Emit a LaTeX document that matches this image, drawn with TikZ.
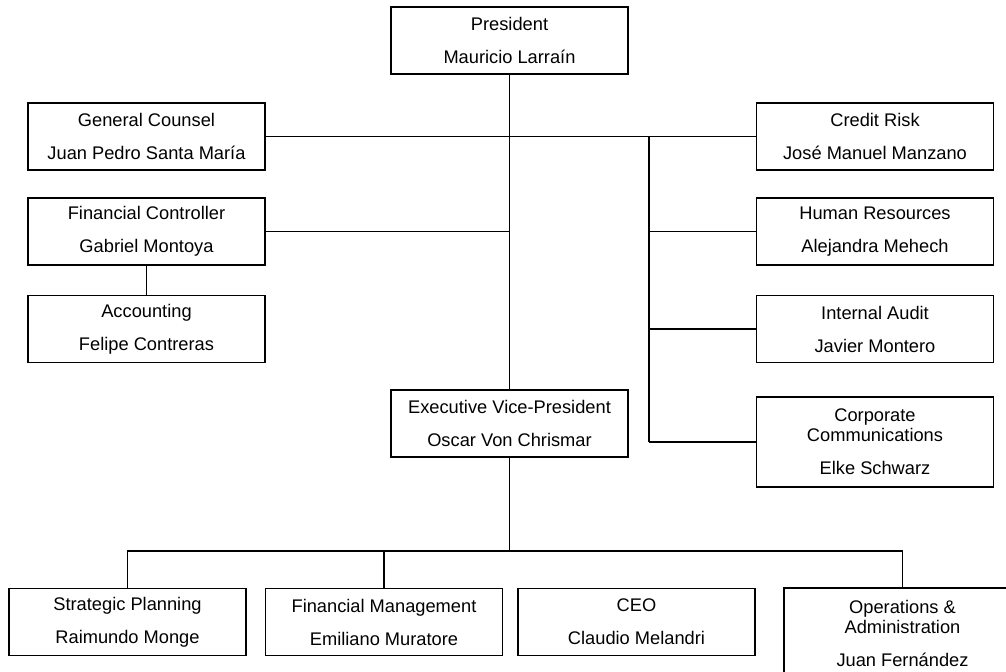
\documentclass[tikz,border=0pt]{standalone}
\usepackage{fontspec}
\setmainfont{Liberation Sans}
\usepackage{tikz}
\tikzset{every picture/.style={line width=0.9pt}}
\tikzset{
  unitbox/.style={draw, line width=1.2pt, minimum width=177.75pt, minimum height=50.25pt, inner sep=0pt, align=center, font=\fontsize{13.7}{15}\selectfont},
  tallbox/.style={unitbox, minimum height=67.5pt}
}
\newcommand{\gapname}{\\[9.75pt]}

\begin{document}
\begin{tikzpicture}[x=0.75pt,y=0.75pt,yscale=-1]
\clip (0,0) rectangle (1006,671);

%Shape: Boxes, top and left
\node[unitbox] (pres) at (509.5,40.5) {President\gapname Mauricio Larraín};
\node[unitbox] (counsel) at (146.5,136.5) {General Counsel\gapname Juan Pedro Santa María};
\node[unitbox] (controller) at (146.5,231.5) {Financial Controller\gapname Gabriel Montoya};
\node[unitbox] (accounting) at (146.5,329) {Accounting\gapname Felipe Contreras};
%Shape: Boxes, right
\node[unitbox] (credit) at (875,136.5) {Credit Risk\gapname José Manuel Manzano};
\node[unitbox] (hr) at (875,231.5) {Human Resources\gapname Alejandra Mehech};
\node[unitbox] (audit) at (875,329) {Internal Audit\gapname Javier Montero};
\node[tallbox] (comms) at (875,442) {Corporate\\Communications\gapname Elke Schwarz};
%Shape: Boxes, middle and bottom
\node[unitbox] (evp) at (509.5,423.5) {Executive Vice-President\gapname Oscar Von Chrismar};
\node[unitbox] (planning) at (127.5,622) {Strategic Planning\gapname Raimundo Monge};
\node[unitbox] (finmgmt) at (384,622) {Financial Management\gapname Emiliano Muratore};
\node[unitbox] (ceo) at (636.5,622) {CEO\gapname Claudio Melandri};
\node[tallbox] (ops) at (902.5,633) {Operations \&\\Administration\gapname Juan Fernández};

%Straight Lines
\coordinate (rbus) at (649,0);
\coordinate (lbus) at (0,551);
\draw (pres.south) -- (evp.north);
\draw (counsel.east) -- (credit.west);
\draw (controller.east) -- (controller.east -| pres.south);
\draw (controller.south) -- (accounting.north);
\draw (credit.west -| rbus) -- (comms.west -| rbus);
\draw (hr.west -| rbus) -- (hr.west);
\draw (audit.west -| rbus) -- (audit.west);
\draw (comms.west -| rbus) -- (comms.west);
%Straight Lines, lower tree
\draw (evp.south) -- (evp.south |- lbus);
\draw (planning.north) |- (lbus -| ops.north) -- (ops.north);
\draw (finmgmt.north) -- (finmgmt.north |- lbus);

\end{tikzpicture}
\end{document}
